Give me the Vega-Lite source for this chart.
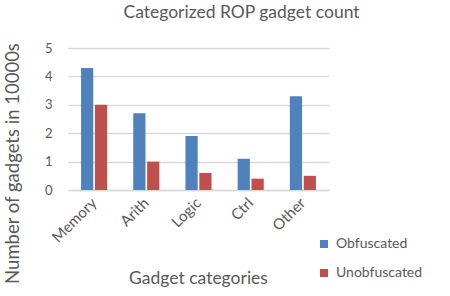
{
  "$schema": "https://vega.github.io/schema/vega-lite/v6.json",
  "autosize": "none",
  "width": 261,
  "height": 142,
  "padding": {"left": 68, "top": 48, "right": 121, "bottom": 106},
  "background": "white",
  "config": {
    "font": "Lato",
    "view": {"stroke": null},
    "axis": {"labelColor": "#595959", "titleColor": "#595959", "labelFont": "Lato", "titleFont": "Lato", "titleFontWeight": "normal"},
    "legend": {"labelColor": "#595959", "labelFont": "Lato"}
  },
  "title": {
    "text": "Categorized ROP gadget count",
    "fontSize": 17.5,
    "fontWeight": "normal",
    "color": "#595959",
    "font": "Lato",
    "anchor": "middle",
    "frame": "group",
    "baseline": "top",
    "offset": 0,
    "dx": 43,
    "dy": -21
  },
  "data": {
    "values": [
      {"category": "Memory", "series": "Obfuscated", "value": 4.3},
      {"category": "Memory", "series": "Unobfuscated", "value": 3.0},
      {"category": "Arith", "series": "Obfuscated", "value": 2.7},
      {"category": "Arith", "series": "Unobfuscated", "value": 1.0},
      {"category": "Logic", "series": "Obfuscated", "value": 1.9},
      {"category": "Logic", "series": "Unobfuscated", "value": 0.6},
      {"category": "Ctrl", "series": "Obfuscated", "value": 1.1},
      {"category": "Ctrl", "series": "Unobfuscated", "value": 0.4},
      {"category": "Other", "series": "Obfuscated", "value": 3.3},
      {"category": "Other", "series": "Unobfuscated", "value": 0.5}
    ]
  },
  "mark": {"type": "bar"},
  "encoding": {
    "x": {
      "field": "category",
      "type": "nominal",
      "sort": ["Memory", "Arith", "Logic", "Ctrl", "Other"],
      "scale": {"paddingInner": 0.5, "paddingOuter": 0.25},
      "axis": {
        "title": "Gadget categories",
        "titleFontSize": 17.5,
        "titleX": 130,
        "titleY": 93,
        "titleBaseline": "alphabetic",
        "titleAlign": "center",
        "labelAngle": -45,
        "labelAlign": "right",
        "labelBaseline": "middle",
        "labelFontSize": 15,
        "labelPadding": 10,
        "ticks": false,
        "domainColor": "#d9d9d9",
        "domainWidth": 1.5
      }
    },
    "xOffset": {
      "field": "series",
      "type": "nominal",
      "scale": {"paddingInner": 0.12}
    },
    "y": {
      "field": "value",
      "type": "quantitative",
      "scale": {"domain": [0, 5], "nice": false},
      "axis": {
        "title": "Number of gadgets in 10000s",
        "titleFontSize": 18.5,
        "titleX": -56,
        "titleY": 115,
        "titleAngle": 270,
        "titleAlign": "center",
        "titleBaseline": "middle",
        "values": [0, 1, 2, 3, 4, 5],
        "labelFontSize": 13,
        "labelPadding": 16,
        "ticks": false,
        "domain": false,
        "gridColor": "#d9d9d9",
        "gridWidth": 1.5
      }
    },
    "color": {
      "field": "series",
      "type": "nominal",
      "scale": {"domain": ["Obfuscated", "Unobfuscated"], "range": ["#4F81BD", "#C0504D"]},
      "legend": {
        "title": null,
        "orient": "none",
        "legendX": 249,
        "legendY": 189,
        "symbolType": "square",
        "symbolSize": 64,
        "symbolStrokeWidth": 0,
        "labelFontSize": 14,
        "rowPadding": 15,
        "labelOffset": 5
      }
    }
  }
}
